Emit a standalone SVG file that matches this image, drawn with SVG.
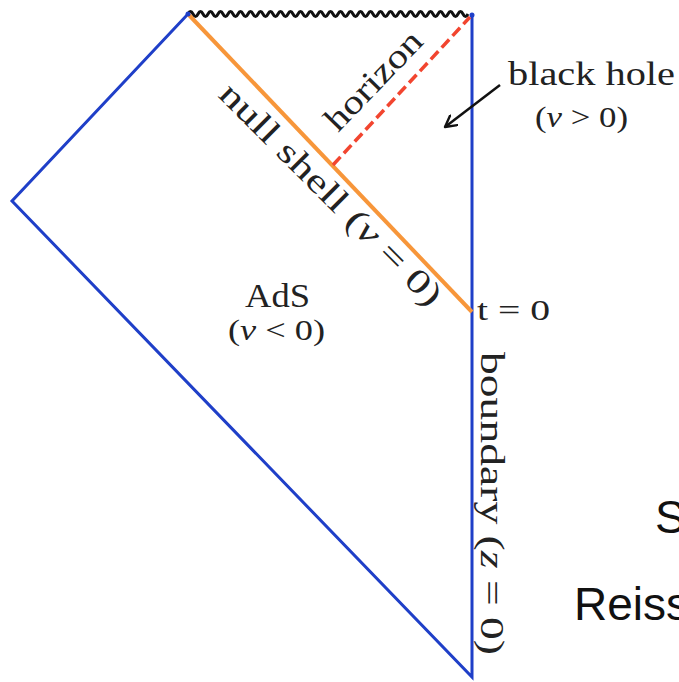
<svg xmlns="http://www.w3.org/2000/svg" width="679" height="682" viewBox="0 0 679 682">
<style>
.serif{font-family:"Liberation Serif","DejaVu Serif",serif;fill:#222}
.sans{font-family:"Liberation Sans",Arial,sans-serif;fill:#111}
.blue{stroke:#1f3fc8;stroke-width:3;fill:none}
</style>
<defs>
<marker id="open" viewBox="0 0 14 14" refX="12" refY="7" markerWidth="14" markerHeight="14" orient="auto" markerUnits="userSpaceOnUse">
<path d="M1,1 L12,7 L1,13" fill="none" stroke="#111" stroke-width="2.4" stroke-linecap="round" stroke-linejoin="round"/>
</marker>
</defs>
<rect width="679" height="682" fill="#fff"/>
<g id="connectors">
<path id="penrose" class="blue" d="M188,14 L12,201 L472,677 L472,14"/>
<path id="singularity" d="M188,14 q2.5,-5 5,0 t5,0 t5,0 t5,0 t5,0 t5,0 t5,0 t5,0 t5,0 t5,0 t5,0 t5,0 t5,0 t5,0 t5,0 t5,0 t5,0 t5,0 t5,0 t5,0 t5,0 t5,0 t5,0 t5,0 t5,0 t5,0 t5,0 t5,0 t5,0 t5,0 t5,0 t5,0 t5,0 t5,0 t5,0 t5,0 t5,0 t5,0 t5,0 t5,0 t5,0 t5,0 t5,0 t5,0 t5,0 t5,0 t5,0 t5,0 t5,0 t5,0 t5,0 t5,0 t5,0 t5,0 t5,0 t5,0" fill="none" stroke="#111" stroke-width="3"/>
<line id="nullshell" x1="188" y1="14" x2="472" y2="312" stroke="#f7963a" stroke-width="4"/>
<line id="horizon" x1="333" y1="165" x2="470" y2="17" stroke="#f2452f" stroke-width="3.5" stroke-dasharray="11,5"/>
<line id="bh-arrow" x1="500" y1="85" x2="445" y2="127" stroke="#111" stroke-width="2.5" marker-end="url(#open)"/>
<circle cx="188" cy="14" r="2.5" fill="#1f3fc8"/>
<circle cx="472" cy="15" r="2.5" fill="#1f3fc8"/>
</g>
<g id="label-blackhole">
<text class="serif" x="508" y="85" font-size="34" textLength="167" lengthAdjust="spacingAndGlyphs">black hole</text>
<text class="serif" x="535" y="127" font-size="30" textLength="93" lengthAdjust="spacingAndGlyphs">(<tspan font-style="italic">v</tspan> &gt; 0)</text>
</g>
<g id="label-ads">
<text class="serif" x="245" y="307" font-size="34" textLength="65" lengthAdjust="spacingAndGlyphs">AdS</text>
<text class="serif" x="228" y="340" font-size="30" textLength="97" lengthAdjust="spacingAndGlyphs">(<tspan font-style="italic">v</tspan> &lt; 0)</text>
</g>
<g id="label-t0">
<text class="serif" x="477" y="320" font-size="30" textLength="73" lengthAdjust="spacingAndGlyphs">t = 0</text>
</g>
<g id="label-nullshell">
<text class="serif" transform="translate(217,96) rotate(45)" font-size="34" textLength="300" lengthAdjust="spacingAndGlyphs">null shell (<tspan font-style="italic">v</tspan> = 0)</text>
</g>
<g id="label-horizon">
<text class="serif" transform="translate(338,133) rotate(-46)" font-size="34" textLength="125" lengthAdjust="spacingAndGlyphs">horizon</text>
</g>
<g id="label-boundary">
<text class="serif" transform="translate(481,352) rotate(90)" font-size="34" textLength="303" lengthAdjust="spacingAndGlyphs">boundary (<tspan font-style="italic">z</tspan> = 0)</text>
</g>
<g id="cut-text">
<text class="sans" x="655" y="533" font-size="46">S</text>
<text class="sans" x="574" y="620" font-size="46">Reiss</text>
</g>
</svg>
